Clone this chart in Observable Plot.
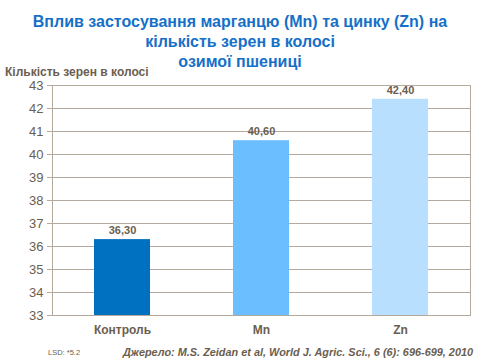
<!DOCTYPE html>
<html><head><meta charset="utf-8">
<script src="https://cdn.jsdelivr.net/npm/d3@7"></script>
<script src="https://cdn.jsdelivr.net/npm/@observablehq/plot@0.6"></script>
<style>
body{margin:0;background:#fff;font-family:"Liberation Sans",Arial,sans-serif;}
#wrap{position:relative;width:480px;height:360px;overflow:hidden;}
#title{position:absolute;left:0;top:12px;width:480px;text-align:center;color:#1570c8;font-weight:bold;font-size:16px;line-height:20px;}
#ylab{position:absolute;left:5px;top:65px;color:#6b5e50;font-weight:bold;font-size:12px;}
#lsd{position:absolute;left:48px;top:348px;color:#6b5e50;font-size:7.5px;}
#src{position:absolute;left:123px;top:346px;color:#6b5e50;font-weight:bold;font-style:italic;font-size:10.9px;}
#chart{position:absolute;left:0;top:0;}
</style></head>
<body><div id="wrap">
<div id="chart"></div>
<div id="title">Вплив застосування марганцю (Mn) та цинку (Zn) на<br>кількість зерен в колосі<br>озимої пшениці</div>
<div id="ylab">Кількість зерен в колосі</div>
<div id="lsd">LSD: *5.2</div>
<div id="src">Джерело: M.S. Zeidan et al, World J. Agric. Sci., 6 (6): 696-699, 2010</div>
</div>
<script>
const categories = ["Контроль", "Mn", "Zn"];
const values = [36.3, 40.6, 42.4];
const colors = ["#0070c0", "#6bbeff", "#b9dfff"];
const yTicks = [33,34,35,36,37,38,39,40,41,42,43];
const yMin = 33, yMax = 43;

const data = categories.map((c,i)=>({cat:c, v:values[i], col:colors[i]}));
const txt = "#6b5e50", grid = "#b3a99d";
const fmt = v => v.toFixed(2).replace(".", ",");

const plot = Plot.plot({
  width: 480, height: 360,
  marginTop: 85, marginBottom: 45, marginLeft: 52, marginRight: 10,
  style: {fontFamily: '"Liberation Sans",Arial,sans-serif', color: txt, background: "transparent"},
  x: {domain: categories, paddingInner: 0.6, paddingOuter: 0.3, label: null},
  y: {domain: [yMin, yMax], label: null},
  marks: [
    Plot.gridY(yTicks, {stroke: grid, strokeOpacity: 1}),
    Plot.frame({stroke: grid}),
    Plot.barY(data, {x: "cat", y1: () => yMin, y2: "v", fill: "col"}),
    Plot.text(data, {x: "cat", y: "v", text: d => fmt(d.v), dy: -9, fill: txt, fontWeight: "bold", fontSize: 11}),
    Plot.axisY(yTicks, {tickSize: 5, stroke: grid, fill: txt, fontSize: 13, tickPadding: 4, label: null}),
    Plot.axisX({tickSize: 0, fill: txt, fontSize: 12, fontWeight: "bold", tickPadding: 10, label: null})
  ]
});
document.getElementById("chart").appendChild(plot);
</script>
</body></html>
